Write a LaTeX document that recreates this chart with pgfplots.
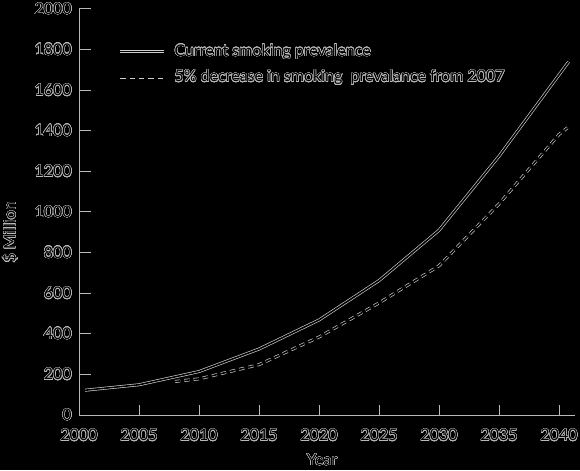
\documentclass[border=0pt]{standalone}
\usepackage{fontspec}
\setmainfont{Lato}
\usepackage{pgfplots}
\pgfplotsset{compat=1.18}
\usepackage{contour}
\contourlength{0.32pt}
\contournumber{24}
\definecolor{ink}{RGB}{185,185,185}
\definecolor{lineink}{RGB}{205,205,205}
\newcommand\ct[1]{\contour{ink}{#1}}
\begin{document}
\begin{tikzpicture}
\fill[black] (0,0) rectangle (435pt,352.5pt);
\begin{axis}[
  at={(59.25pt,41.25pt)}, anchor=south west,
  scale only axis, width=372pt, height=304.5pt,
  xmin=2000, xmax=2041.33, ymin=0, ymax=2000,
  axis x line=bottom, axis y line=left,
  axis line style={-, draw=ink, line width=0.75pt},
  xtick={2000,2005,...,2040}, ytick={0,200,...,2000},
  xticklabels={\ct{2000},\ct{2005},\ct{2010},\ct{2015},\ct{2020},\ct{2025},\ct{2030},\ct{2035},\ct{2040}},
  yticklabels={\ct{0},\ct{200},\ct{400},\ct{600},\ct{800},\ct{1000},\ct{1200},\ct{1400},\ct{1600},\ct{1800},\ct{2000}},
  tick align=inside,
  major tick length=9pt,
  xtick style={/pgfplots/major tick length=7.5pt},
  tick style={draw=ink, line width=0.75pt},
  ticklabel style={font=\fontsize{12}{14}\selectfont, text=black, inner sep=0pt},
  xticklabel style={yshift=-10.5pt},
  yticklabel style={xshift=-5.25pt},
  xlabel={\ct{Year}}, ylabel={\ct{\$ Million}},
  label style={font=\fontsize{12}{14}\selectfont, text=black},
  xlabel style={at={(axis description cs:0.49,-0.111)}, anchor=center},
  ylabel style={at={(axis description cs:-0.139,0.45)}, anchor=center},
  legend style={at={(axis description cs:0.08,0.92)}, anchor=north west,
    draw=none, fill=none, inner sep=0pt, row sep=5pt,
    font=\fontsize{12}{14}\selectfont, text=black},
  legend cell align=left,
  legend image code/.code={\draw[#1] (0pt,0pt) -- (33pt,0pt); \path (37.5pt,0pt);},
  clip=false,
]
\addplot[draw=lineink, double=black, double distance=1.2pt, line width=0.5pt]
coordinates {(2000.5,122) (2005,149) (2010,214) (2015,325) (2020,468) (2025,662) (2030,910) (2035,1275) (2040,1676) (2040.8,1740)};
\addlegendentry{\ct{Current smoking prevalence}}
\addplot[draw=lineink, double=black, double distance=1.2pt, line width=0.5pt, dash pattern=on 4pt off 3pt]
coordinates {(2008,165) (2010,178) (2015,248) (2020,384) (2025,552) (2030,735) (2035,1040) (2040,1382) (2040.7,1415)};
\addlegendentry{\ct{5\% decrease in smoking\ \ prevalance from 2007}}
\end{axis}
\pgfresetboundingbox
\path (0,0) rectangle (435pt,352.5pt);
\end{tikzpicture}
\end{document}
